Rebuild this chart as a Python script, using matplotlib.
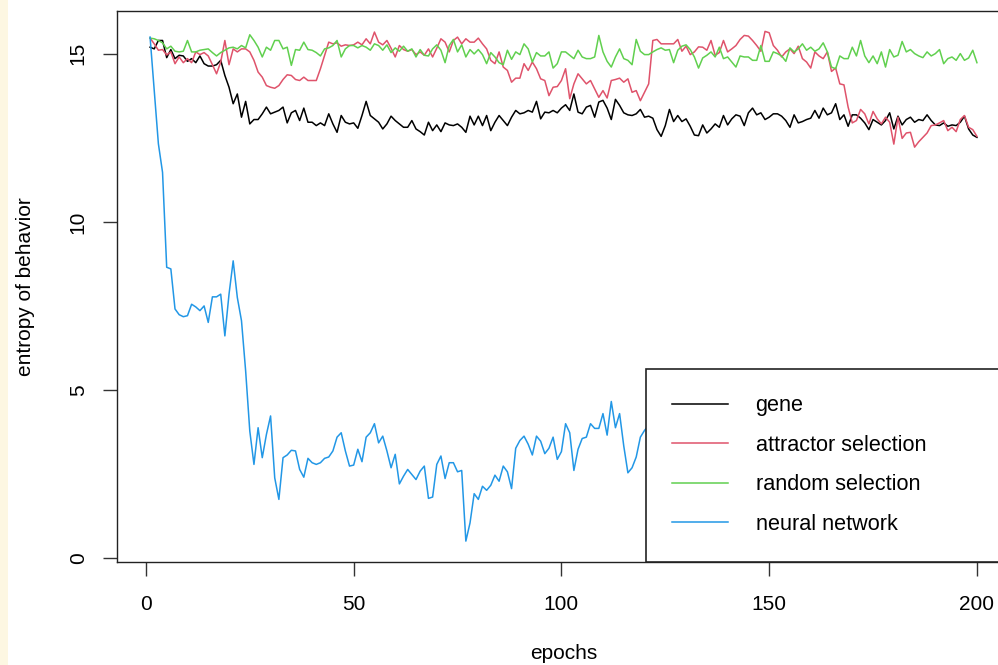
#!/usr/bin/env python3
import numpy as np
from matplotlib import pyplot as plt
from matplotlib.patches import Rectangle

epochs = np.arange(1, 201)

gene = [
    15.19, 15.14, 15.39, 15.39, 14.88, 15.12, 14.85, 14.95, 14.93, 14.77,
    14.85, 14.73, 14.93, 14.70, 14.63, 14.63, 14.67, 14.80, 14.35, 14.00,
    13.51, 13.80, 13.11, 13.58, 12.91, 13.04, 13.04, 13.21, 13.41, 13.21,
    13.26, 13.31, 13.41, 12.94, 13.24, 13.31, 13.01, 13.38, 12.96, 12.96,
    12.86, 12.94, 12.86, 13.21, 12.91, 12.66, 13.16, 12.96, 12.91, 12.94,
    12.78, 13.16, 13.58, 13.16, 13.06, 12.96, 12.76, 12.91, 13.14, 13.01,
    12.91, 12.81, 12.81, 13.01, 12.76, 12.68, 12.58, 12.96, 12.71, 12.88,
    12.68, 12.94, 12.88, 12.86, 12.91, 12.81, 12.66, 13.14, 12.88, 13.14,
    12.86, 13.16, 12.71, 12.96, 13.16, 13.01, 12.86, 13.11, 13.31, 13.21,
    13.24, 13.31, 13.26, 13.58, 13.06, 13.26, 13.24, 13.31, 13.24, 13.38,
    13.48, 13.31, 13.80, 13.26, 13.21, 13.41, 13.46, 13.11, 13.56, 13.61,
    13.38, 13.04, 13.64, 13.46, 13.24, 13.18, 13.16, 13.21, 13.34, 13.11,
    13.14, 13.08, 12.74, 12.54, 12.86, 13.34, 12.98, 13.16, 12.98, 13.06,
    12.84, 12.58, 12.56, 12.88, 12.64, 12.76, 12.91, 12.81, 13.16, 12.88,
    13.06, 13.18, 13.14, 12.86, 13.24, 13.38, 13.18, 13.24, 13.04, 13.11,
    13.21, 13.21, 13.14, 13.01, 12.81, 13.18, 12.94, 12.98, 13.04, 13.08,
    13.31, 13.08, 13.38, 13.18, 13.24, 13.51, 13.04, 13.18, 12.84, 13.18,
    13.18, 13.08, 12.94, 12.74, 13.04, 12.96, 12.88, 13.01, 13.24, 12.76,
    13.14, 12.88, 13.04, 13.11, 12.96, 13.04, 13.01, 13.18, 13.01, 12.88,
    12.86, 12.94, 12.84, 12.88, 12.86, 12.96, 13.14, 12.76, 12.58, 12.51,
]

attractor = [
    15.46, 15.29, 15.10, 15.12, 14.96, 15.05, 14.70, 14.90, 14.73, 14.85,
    14.73, 15.05, 14.97, 15.03, 14.93, 14.67, 14.40, 14.75, 15.39, 14.67,
    15.14, 15.05, 15.14, 15.14, 15.05, 14.80, 14.45, 14.30, 14.05, 14.00,
    13.97, 14.05, 14.23, 14.37, 14.35, 14.23, 14.20, 14.30, 14.20, 14.20,
    14.20, 14.55, 14.95, 15.34, 15.29, 15.32, 15.22, 15.26, 15.24, 15.26,
    15.34, 15.26, 15.44, 15.29, 15.64, 15.34, 15.26, 15.39, 15.16, 14.90,
    15.24, 15.12, 15.07, 15.12, 14.97, 15.05, 14.95, 15.14, 14.90, 15.16,
    15.44, 15.34, 15.05, 15.39, 15.49, 15.29, 15.44, 15.34, 15.34, 15.46,
    15.29, 15.14, 14.80, 14.70, 15.05, 14.60, 14.50, 14.15, 14.27, 14.27,
    14.70, 14.50, 14.75, 14.55, 14.25, 14.20, 13.75, 14.00, 14.02, 14.20,
    14.55, 13.66, 14.10, 14.40, 14.25, 14.10, 14.20, 13.95, 13.70, 13.90,
    13.68, 14.20, 14.23, 14.27, 14.15, 14.25, 13.85, 13.90, 13.60, 13.85,
    14.10, 15.39, 15.42, 15.29, 15.29, 15.29, 15.29, 15.42, 15.07, 15.22,
    14.97, 15.05, 15.20, 15.19, 15.10, 15.39, 14.95, 15.03, 15.39, 15.05,
    15.14, 15.24, 15.42, 15.54, 15.52, 15.39, 15.24, 15.07, 15.66, 15.62,
    15.24, 15.10, 14.90, 15.05, 15.14, 15.00, 15.22, 14.85, 14.75, 14.57,
    15.05, 14.93, 14.85, 15.05, 14.47, 14.57, 14.10, 14.07, 13.41, 12.94,
    13.01, 13.34, 13.21, 12.91, 13.28, 13.06, 12.91, 13.11, 12.96, 12.31,
    13.11, 12.48, 12.64, 12.66, 12.22, 12.38, 12.51, 12.64, 12.86, 12.88,
    12.94, 13.01, 12.71, 12.81, 12.68, 13.04, 13.16, 12.81, 12.74, 12.54,
]

random_sel = [
    15.46, 15.44, 15.39, 15.32, 15.14, 15.22, 15.07, 15.05, 15.07, 15.39,
    15.05, 15.05, 15.10, 15.12, 15.14, 15.03, 14.93, 15.03, 15.10, 15.17,
    15.19, 15.14, 15.24, 15.17, 15.56, 15.39, 15.19, 14.90, 15.19, 15.10,
    15.39, 15.39, 15.14, 15.19, 14.65, 15.12, 15.10, 15.34, 15.12, 15.10,
    15.03, 14.93, 15.14, 15.17, 15.24, 15.39, 14.90, 15.14, 15.24, 15.24,
    15.17, 15.24, 15.19, 15.10, 15.29, 15.24, 15.10, 15.26, 15.03, 15.17,
    15.07, 15.22, 15.07, 15.14, 14.90, 15.12, 14.95, 14.93, 15.14, 15.26,
    15.10, 14.73, 15.24, 15.42, 15.05, 15.26, 14.90, 15.12, 14.99, 15.12,
    14.97, 14.70, 15.03, 14.90, 14.73, 14.67, 15.10, 14.83, 15.05, 14.97,
    15.29, 15.14, 14.75, 15.03, 14.93, 14.93, 15.05, 14.57, 14.70, 15.05,
    15.05, 14.95, 14.85, 15.10, 14.90, 14.85, 14.85, 14.90, 15.54, 15.05,
    14.77, 14.60, 14.90, 15.14, 14.85, 14.80, 14.67, 15.42, 15.07, 14.97,
    14.97, 15.05, 15.12, 15.17, 15.10, 15.12, 14.73, 15.10, 15.22, 15.26,
    15.12, 14.90, 14.57, 14.87, 14.95, 15.05, 14.90, 15.19, 14.85, 14.90,
    14.75, 14.60, 14.93, 14.90, 14.90, 14.80, 14.80, 15.24, 14.77, 14.77,
    15.05, 15.00, 14.93, 14.77, 15.17, 15.05, 15.14, 15.29, 15.10, 15.19,
    15.07, 15.14, 15.32, 15.05, 14.60, 14.55, 14.93, 14.85, 14.85, 15.19,
    14.93, 15.39, 14.93, 14.73, 14.93, 14.70, 15.05, 14.60, 15.12, 14.90,
    14.95, 15.36, 15.05, 15.12, 15.00, 14.93, 14.88, 15.05, 14.93, 15.00,
    15.12, 14.70, 14.85, 14.90, 14.80, 15.00, 14.80, 14.87, 15.10, 14.73,
]

neural = [
    15.49, 13.90, 12.32, 11.47, 8.65, 8.60, 7.41, 7.24, 7.18, 7.21,
    7.55, 7.47, 7.36, 7.50, 7.01, 7.77, 7.77, 7.85, 6.61, 7.85,
    8.84, 7.75, 7.06, 5.57, 3.78, 2.79, 3.88, 2.99, 3.68, 4.23,
    2.39, 1.75, 2.99, 3.07, 3.21, 3.19, 2.64, 2.41, 2.97, 2.84,
    2.79, 2.84, 2.97, 3.01, 3.19, 3.60, 3.73, 3.19, 2.74, 2.77,
    3.24, 2.87, 3.60, 3.73, 4.00, 3.43, 3.63, 3.19, 2.69, 3.09,
    2.21, 2.44, 2.64, 2.49, 2.34, 2.59, 2.74, 1.78, 1.82, 2.79,
    3.04, 2.37, 2.84, 2.84, 2.57, 2.61, 0.51, 1.05, 1.92, 1.75,
    2.14, 2.02, 2.17, 2.47, 2.29, 2.74, 2.57, 2.07, 3.27, 3.50,
    3.63, 3.39, 3.07, 3.63, 3.48, 3.11, 3.27, 3.60, 2.94, 3.17,
    4.00, 3.73, 2.61, 3.24, 3.56, 3.60, 4.00, 3.86, 3.86, 4.30,
    3.66, 4.66, 3.88, 4.30, 3.34, 2.54, 2.69, 3.01, 3.60, 3.80,
    3.95, 4.12, 3.78, 4.25, 4.08, 3.92, 4.40, 4.15, 3.86, 4.31,
    4.22, 4.05, 4.48, 4.17, 3.94, 4.36, 4.52, 4.11, 4.28, 4.63,
    4.34, 4.19, 4.57, 4.41, 4.08, 4.46, 4.70, 4.29, 4.38, 4.55,
    4.21, 4.62, 4.44, 4.33, 4.75, 4.50, 4.27, 4.58, 4.66, 4.39,
    4.52, 4.81, 4.47, 4.35, 4.69, 4.56, 4.43, 4.78, 4.60, 4.49,
    4.72, 4.58, 4.36, 4.64, 4.85, 4.51, 4.67, 4.44, 4.73, 4.62,
    4.55, 4.80, 4.68, 4.47, 4.74, 4.59, 4.88, 4.63, 4.52, 4.77,
    4.66, 4.58, 4.83, 4.71, 4.55, 4.79, 4.64, 4.90, 4.73, 4.68,
]

labels = ['gene', 'attractor selection', 'random selection', 'neural network']
colors = ['#000000', '#DF536B', '#61D04F', '#2297E6']
x_ticks = [0, 50, 100, 150, 200]
y_ticks = [0, 5, 10, 15]

plt.rcParams['font.family'] = ['Liberation Sans', 'DejaVu Sans']
plt.rcParams['font.size'] = 15

fig = plt.figure(figsize=(9.98, 6.65), dpi=100)
# thin cream strip down the left edge
fig.patches.append(Rectangle((0, 0), 8 / 998, 1, transform=fig.transFigure,
                             facecolor='#fdf7e2', edgecolor='none'))
ax = fig.add_axes([117 / 998, 103.5 / 665, 893 / 998, 550.5 / 665])

for series, lab, col in zip([gene, attractor, random_sel, neural], labels, colors):
    ax.plot(epochs, series, color=col, lw=1.1, label=lab)

# R-style axis ranges: data range padded by 4%
allv = np.concatenate([gene, attractor, random_sel, neural])
ypad = 0.04 * (allv.max() - allv.min())
xpad = 0.04 * (epochs.max() - epochs.min())
ax.set_xlim(epochs.min() - xpad, epochs.max() + xpad)
ax.set_ylim(allv.min() - ypad, allv.max() + ypad)

ax.set_xticks(x_ticks)
ax.set_yticks(y_ticks)
ax.tick_params(axis='both', length=10, width=1, color='#333333', labelsize=15)
ax.tick_params(axis='x', pad=14)
ax.tick_params(axis='y', pad=11, labelrotation=90)
for lbl in ax.get_yticklabels():
    lbl.set_va('center')
for s in ax.spines.values():
    s.set_linewidth(1)
    s.set_color('#222222')

ax.set_xlabel('epochs', labelpad=22)
ax.set_ylabel('entropy of behavior', labelpad=24)

leg = ax.legend(loc='lower left', bbox_to_anchor=(0.592, 0, 0.408, 1),
                mode='expand', borderaxespad=0, fancybox=False, framealpha=1,
                edgecolor='#222222', borderpad=1.22, labelspacing=0.86,
                handlelength=2.6, handletextpad=1.25, fontsize=15.6)
leg.get_frame().set_linewidth(1.2)
for line in leg.get_lines():
    line.set_linewidth(1.1)

plt.savefig('out.png', dpi=100)
